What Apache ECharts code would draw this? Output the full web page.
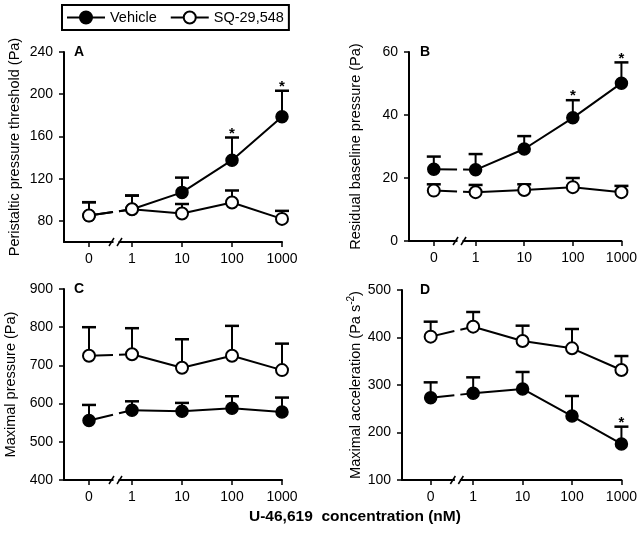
<!DOCTYPE html>
<html><head><meta charset="utf-8">
<script src="https://cdn.jsdelivr.net/npm/echarts@6/dist/echarts.min.js"></script>
<style>html,body{margin:0;padding:0;background:#fff}#c{width:640px;height:533px}</style>
</head><body><div id="c"></div>
<script>
// ---- data ----
const concLabels = ['0', '1', '10', '100', '1000'];
const xPos = [-0.86, 0, 1, 2, 3];
const breakPos = -0.32;
const groupNames = ['Vehicle', 'SQ-29,548'];

// Panel A: peristaltic pressure threshold (Pa)
const vehA = [85, 91, 107, 137.5, 178.7];
const vehA_sem = [12.7, 13, 14, 21.5, 24.6];
const vehA_sig = [0, 0, 0, 1, 1];
const sqA = [85, 91, 87, 97.4, 81.9];
const sqA_sem = [12.7, 13, 9, 11.4, 7.6];
const sqA_sig = [0, 0, 0, 0, 0];
const yTicksA = [80, 120, 160, 200, 240];

// Panel B: residual baseline pressure (Pa)
const vehB = [22.8, 22.6, 29.2, 39.1, 50.1];
const vehB_sem = [4.0, 5.0, 4.1, 5.6, 6.6];
const vehB_sig = [0, 0, 0, 1, 1];
const sqB = [16.0, 15.5, 16.2, 17.1, 15.5];
const sqB_sem = [2.0, 2.3, 1.8, 2.9, 2.0];
const sqB_sig = [0, 0, 0, 0, 0];

// Panel C: maximal pressure (Pa)
const vehC = [556, 582.5, 580, 587.7, 578];
const vehC_sem = [40.5, 23.5, 21.8, 31.6, 37.8];
const vehC_sig = [0, 0, 0, 0, 0];
const sqC = [725.4, 729, 693.9, 725.4, 687.7];
const sqC_sem = [74.6, 68.4, 74.5, 78.1, 69.3];
const sqC_sig = [0, 0, 0, 0, 0];

// Panel D: maximal acceleration (Pa s-2)
const vehD = [273.3, 282.5, 291.6, 234.7, 175.8];
const vehD_sem = [32.3, 33.6, 35.8, 42.1, 36.5];
const vehD_sig = [0, 0, 0, 0, 1];
const sqD = [401.8, 422.8, 392.6, 377.2, 331.6];
const sqD_sem = [31.5, 30.9, 32.3, 40.7, 29.4];
const sqD_sig = [0, 0, 0, 0, 0];

const FONT = '"Liberation Sans", Arial, Helvetica, sans-serif';

const panels = [
  {label: 'A', labelLeft: 69, name: 'Peristaltic pressure threshold (Pa)', grid: {left: 64, top: 52, width: 218, height: 190}, xmin: -1.36,
   ymin: 60, ymax: 240, yticks: yTicksA, nameGap: 42,
   groups: [[vehA, vehA_sem, vehA_sig], [sqA, sqA_sem, sqA_sig]]},
  {label: 'B', labelLeft: 415, name: 'Residual baseline pressure (Pa)', grid: {left: 409, top: 52, width: 216, height: 189}, xmin: -1.37,
   ymin: 0, ymax: 60, interval: 20, nameGap: 46,
   groups: [[vehB, vehB_sem, vehB_sig], [sqB, sqB_sem, sqB_sig]]},
  {label: 'C', labelLeft: 69, name: 'Maximal pressure (Pa)', grid: {left: 64, top: 289, width: 218, height: 191}, xmin: -1.36,
   ymin: 400, ymax: 900, interval: 100, nameGap: 46,
   groups: [[vehC, vehC_sem, vehC_sig], [sqC, sqC_sem, sqC_sig]]},
  {label: 'D', labelLeft: 415, name: 'Maximal acceleration (Pa s{sup|-2})', grid: {left: 402, top: 290, width: 222, height: 190}, xmin: -1.44,
   ymin: 100, ymax: 500, interval: 100, nameGap: 37,
   groups: [[vehD, vehD_sem, vehD_sig], [sqD, sqD_sem, sqD_sig]]}
];

const itemStyles = [
  {color: '#000', borderColor: '#000', borderWidth: 1.5, opacity: 1},
  {color: '#fff', borderColor: '#000', borderWidth: 2, opacity: 1}
];

function labelFor(v) {
  let best = 0, bd = 1e9;
  xPos.forEach((p, i) => { const d = Math.abs(p - v); if (d < bd) { bd = d; best = i; } });
  return concLabels[best];
}

function renderErr(params, api) {
  const x = api.value(0), m = api.value(1), u = api.value(2), s = api.value(3);
  const p = api.coord([x, m]), q = api.coord([x, u]);
  const ch = [
    {type: 'line', shape: {x1: p[0], y1: p[1], x2: q[0], y2: q[1]}, style: {stroke: '#000', lineWidth: 2}},
    {type: 'line', shape: {x1: q[0] - 7, y1: q[1], x2: q[0] + 7, y2: q[1]}, style: {stroke: '#000', lineWidth: 2.5}}
  ];
  if (s) ch.push({type: 'text', x: q[0], y: q[1] - 4,
    style: {text: '*', fill: '#000', font: 'bold 15px ' + FONT, align: 'center', verticalAlign: 'middle'}});
  return {type: 'group', children: ch};
}

function renderGap(params, api) {
  const p0 = api.coord([api.value(0), api.value(1)]);
  const p1 = api.coord([api.value(2), api.value(3)]);
  const bx = api.coord([breakPos, api.value(1)])[0];
  const h = 3;
  const dx = p1[0] - p0[0];
  const t1 = (bx - h - p0[0]) / dx, t2 = (bx + h - p0[0]) / dx;
  const a = [p0[0] + t1 * dx, p0[1] + t1 * (p1[1] - p0[1])];
  const b = [p0[0] + t2 * dx, p0[1] + t2 * (p1[1] - p0[1])];
  return {type: 'group', children: [
    {type: 'line', shape: {x1: p0[0], y1: p0[1], x2: a[0], y2: a[1]}, style: {stroke: '#000', lineWidth: 2}},
    {type: 'line', shape: {x1: b[0], y1: b[1], x2: p1[0], y2: p1[1]}, style: {stroke: '#000', lineWidth: 2}}
  ]};
}

const grids = [], xAxes = [], yAxes = [], lineSeries = [], otherSeries = [];
const titles = [];
panels.forEach((P, pi) => {
  grids.push(Object.assign({containLabel: false}, P.grid));
  xAxes.push({
    type: 'value', gridIndex: pi, min: P.xmin, max: 3,
    axisLine: {onZero: false, lineStyle: {color: '#000', width: 2}},
    axisTick: {show: true, customValues: xPos, length: 5, lineStyle: {color: '#000', width: 1.5}},
    axisLabel: {customValues: xPos, formatter: labelFor, margin: 10, fontSize: 14, color: '#000', fontFamily: FONT},
    splitLine: {show: false}
  });
  const y = {
    type: 'value', gridIndex: pi, min: P.ymin, max: P.ymax, position: 'left',
    name: P.name, nameLocation: 'middle', nameGap: P.nameGap,
    nameTextStyle: {fontSize: 14.5, color: '#000', fontFamily: FONT,
      rich: {sup: {fontSize: 10, color: '#000', fontFamily: FONT, padding: [0, 0, 9, 0], verticalAlign: 'bottom'}}},
    axisLine: {show: true, onZero: false, lineStyle: {color: '#000', width: 2}},
    axisTick: {show: true, length: 5, lineStyle: {color: '#000', width: 1.5}},
    axisLabel: {margin: 11, fontSize: 14, color: '#000', fontFamily: FONT},
    splitLine: {show: false}
  };
  if (P.yticks) {
    y.axisTick.customValues = P.yticks;
    y.axisLabel.customValues = P.yticks;
  } else {
    y.interval = P.interval;
  }
  yAxes.push(y);
  titles.push({text: P.label, left: P.labelLeft, top: P.grid.top - 12,
    textStyle: {fontSize: 14, fontWeight: 'bold', color: '#000', fontFamily: FONT}});

  P.groups.forEach((G, gi) => {
    const [vals, sem, sig] = G;
    const z = 3 + gi;
    lineSeries.push({
      type: 'line', name: groupNames[gi], xAxisIndex: pi, yAxisIndex: pi,
      data: xPos.slice(1).map((x, i) => [x, vals[i + 1]]),
      symbol: 'circle', symbolSize: 12, showSymbol: true,
      itemStyle: itemStyles[gi], lineStyle: {color: '#000', width: 2},
      z: z, animation: false, clip: false, silent: true
    });
    otherSeries.push({
      type: 'scatter', name: 'zero-' + gi, xAxisIndex: pi, yAxisIndex: pi,
      data: [[xPos[0], vals[0]]], symbol: 'circle', symbolSize: 12,
      itemStyle: itemStyles[gi], z: z, animation: false, silent: true
    });
    otherSeries.push({
      type: 'custom', name: 'gap-' + gi, xAxisIndex: pi, yAxisIndex: pi,
      data: [[xPos[0], vals[0], xPos[1], vals[1]]], renderItem: renderGap,
      z: 2, animation: false, silent: true
    });
    otherSeries.push({
      type: 'custom', name: 'err-' + gi, xAxisIndex: pi, yAxisIndex: pi,
      data: xPos.map((x, i) => [x, vals[i], vals[i] + sem[i], sig[i]]), renderItem: renderErr,
      z: 1, animation: false, silent: true
    });
  });
});

titles.push({text: 'U-46,619  concentration (nM)', left: 244, top: 504,
  textStyle: {fontSize: 15.5, fontWeight: 'bold', color: '#000', fontFamily: FONT}});

const chart = echarts.init(document.getElementById('c'), null, {renderer: 'canvas'});
chart.setOption({
  animation: false,
  backgroundColor: '#fff',
  textStyle: {fontFamily: FONT},
  title: titles,
  legend: {
    data: groupNames, left: 62, top: 5, itemWidth: 38, itemHeight: 15, itemGap: 13,
    padding: [5, 5, 5, 4], borderColor: '#000', borderWidth: 2,
    textStyle: {fontSize: 14.5, color: '#000', fontFamily: FONT}, selectedMode: false
  },
  grid: grids, xAxis: xAxes, yAxis: yAxes,
  series: lineSeries.concat(otherSeries)
});

// axis-break marks
const gfx = [];
panels.forEach((P, pi) => {
  const pt = chart.convertToPixel({gridIndex: pi}, [breakPos, P.ymin]);
  const bx = pt[0], ay = pt[1];
  gfx.push({type: 'rect', shape: {x: bx - 2.5, y: ay - 2, width: 5, height: 4}, style: {fill: '#fff'}, z: 100});
  gfx.push({type: 'line', shape: {x1: bx - 7, y1: ay + 4, x2: bx - 2, y2: ay - 4}, style: {stroke: '#000', lineWidth: 1.5}, z: 101});
  gfx.push({type: 'line', shape: {x1: bx + 1, y1: ay + 4, x2: bx + 6, y2: ay - 4}, style: {stroke: '#000', lineWidth: 1.5}, z: 101});
});
chart.setOption({graphic: gfx});
</script>
</body></html>
